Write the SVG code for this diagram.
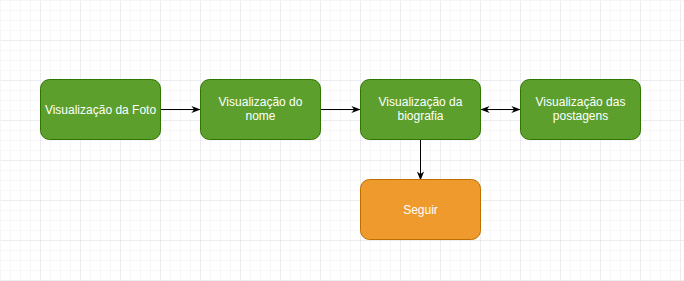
<svg xmlns="http://www.w3.org/2000/svg" width="684" height="281" viewBox="0 0 684 281">
<defs>
<pattern id="minor" width="10" height="10" patternUnits="userSpaceOnUse">
<path d="M10 0H0V10" fill="none" stroke="#f0f0f0" stroke-width="1"/>
</pattern>
<pattern id="major" width="40" height="40" patternUnits="userSpaceOnUse">
<rect width="40" height="40" fill="url(#minor)"/>
<path d="M40 0H0V40" fill="none" stroke="#e2e2e2" stroke-width="1"/>
</pattern>
<marker id="ah" viewBox="0 0 10 10" refX="9" refY="5" markerWidth="9" markerHeight="9" orient="auto-start-reverse" markerUnits="userSpaceOnUse">
<path d="M0 1L10 5L0 9L3 5Z" fill="#000"/>
</marker>
<style>
.g rect{fill:#5c9f2c;stroke:#2d7600;stroke-width:1}
.o rect{fill:#ee9a2c;stroke:#bd7000;stroke-width:1}
text{font-family:"Liberation Sans",Arial,sans-serif;font-size:12px;fill:#fff;text-anchor:middle}
.c path{stroke:#000;stroke-width:1;fill:none}
</style>
</defs>
<rect width="684" height="281" fill="#fff"/>
<rect x="0.5" y="0.5" width="684" height="281" fill="url(#major)"/>
<g class="c" id="connectors">
<path d="M160.5 109.5H199.5" marker-end="url(#ah)"/>
<path d="M320.5 109.5H359.5" marker-end="url(#ah)"/>
<path d="M481.5 109.5H519.5" marker-start="url(#ah)" marker-end="url(#ah)"/>
<path d="M420.5 139.5V179.5" marker-end="url(#ah)"/>
</g>
<g id="n1" class="g"><rect x="40.5" y="79.5" width="120" height="60" rx="9"/><text x="100.5" y="113.5">Visualização da Foto</text></g>
<g id="n2" class="g"><rect x="200.5" y="79.5" width="120" height="60" rx="9"/><text x="260.5" y="106">Visualização do</text><text x="260.5" y="120">nome</text></g>
<g id="n3" class="g"><rect x="360.5" y="79.5" width="120" height="60" rx="9"/><text x="420.5" y="106">Visualização da</text><text x="420.5" y="120">biografia</text></g>
<g id="n4" class="g"><rect x="520.5" y="79.5" width="120" height="60" rx="9"/><text x="580.5" y="106">Visualização das</text><text x="580.5" y="120">postagens</text></g>
<g id="n5" class="o"><rect x="360.5" y="179.5" width="120" height="60" rx="9"/><text x="420.5" y="213.5">Seguir</text></g>
</svg>
